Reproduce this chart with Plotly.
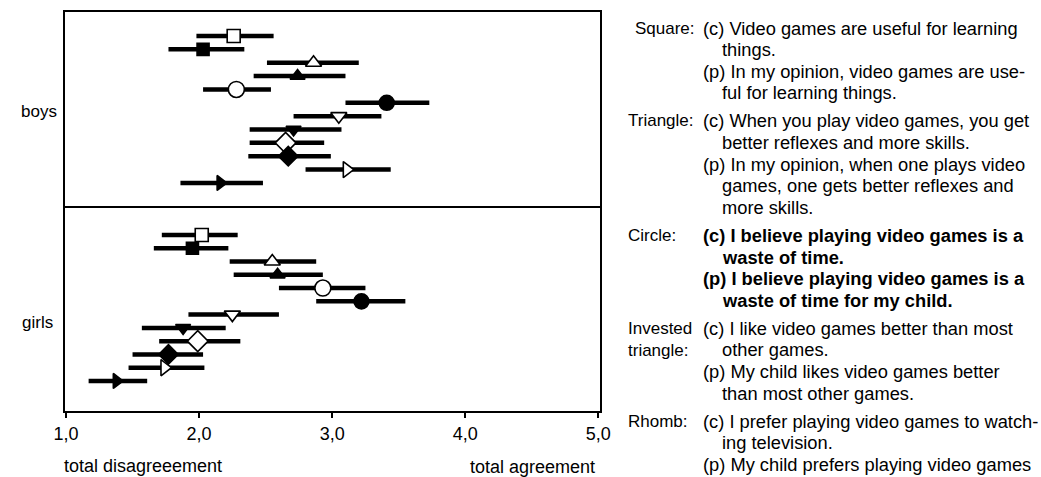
import plotly.graph_objects as go

# Item order within each panel (open = children, filled = parents)
symbols = ["square", "square", "triangle-up", "triangle-up", "circle", "circle",
           "triangle-down", "triangle-down", "diamond", "diamond",
           "triangle-right", "triangle-right"]
filled = [False, True] * 6

# Boys: mean score with lower / upper interval ends
boys_mean = [2.26, 2.03, 2.86, 2.74, 2.28, 3.41, 3.05, 2.71, 2.65, 2.67, 3.11, 2.16]
boys_low = [1.98, 1.77, 2.51, 2.41, 2.03, 3.10, 2.71, 2.38, 2.38, 2.37, 2.80, 1.86]
boys_high = [2.56, 2.34, 3.20, 3.10, 2.54, 3.73, 3.37, 3.07, 2.94, 2.99, 3.44, 2.48]

# Girls
girls_mean = [2.02, 1.95, 2.55, 2.59, 2.93, 3.22, 2.25, 1.88, 1.99, 1.77, 1.74, 1.38]
girls_low = [1.72, 1.66, 2.23, 2.26, 2.60, 2.88, 1.92, 1.57, 1.70, 1.50, 1.47, 1.17]
girls_high = [2.29, 2.22, 2.88, 2.93, 3.25, 3.55, 2.60, 2.20, 2.31, 2.03, 2.04, 1.61]

tick_vals = [1, 2, 3, 4, 5]
tick_text = ["1,0", "2,0", "3,0", "4,0", "5,0"]
group_labels = ["boys", "girls"]
scale_ends = ["total disagreeement", "total agreement"]

key_entries = [
    ("Square:", False, [
        ["(c) Video games are useful for learning", "things."],
        ["(p) In my opinion, video games are use-", "ful for learning things."]]),
    ("Triangle:", False, [
        ["(c) When you play video games, you get", "better reflexes and more skills."],
        ["(p) In my opinion, when one plays video", "games, one gets better reflexes and", "more skills."]]),
    ("Circle:", True, [
        ["(c) I believe playing video games is a", "waste of time."],
        ["(p) I believe playing video games is a", "waste of time for my child."]]),
    ("Invested<br>triangle:", False, [
        ["(c) I like video games better than most", "other games."],
        ["(p) My child likes video games better", "than most other games."]]),
    ("Rhomb:", False, [
        ["(c) I prefer playing video games to watch-", "ing television."],
        ["(p) My child prefers playing video games", "to watching television."]]),
]

FONT = "Liberation Sans, Arial, Helvetica, sans-serif"
W, H = 1041, 477
PL, PR, PT, PB = 64, 601, 11, 412
DIV = 207
KEY_SIZE = 18.3
LABEL_SIZE = 17


def px(x):
    return (x - PL) / (PR - PL)


def py(y):
    return (PB - y) / (PB - PT)


size_map = {"square": 13, "circle": 16, "triangle-up": 14, "triangle-down": 14,
            "diamond": 16, "triangle-right": 14}

fig = go.Figure()


def add_panel(means, lows, highs, xa, ya):
    for i, (m, lo, hi) in enumerate(zip(means, lows, highs)):
        sym = symbols[i]
        fig.add_trace(go.Scatter(
            x=[m], y=[i], mode="markers", xaxis=xa, yaxis=ya, showlegend=False,
            marker=dict(symbol=sym, size=size_map[sym] - (1 if filled[i] else 0),
                        color="black" if filled[i] else "white",
                        line=dict(color="black", width=1.6)),
            error_x=dict(type="data", symmetric=False, array=[hi - m],
                         arrayminus=[m - lo], thickness=4.5, width=0,
                         color="black"),
        ))


add_panel(boys_mean, boys_low, boys_high, "x2", "y2")
add_panel(girls_mean, girls_low, girls_high, "x", "y")

split = py(DIV)
xr = [0.985, 5.02]
fig.update_layout(
    width=W, height=H, autosize=False,
    margin=dict(l=PL, r=W - PR, t=PT, b=H - PB, pad=0),
    paper_bgcolor="white", plot_bgcolor="white",
    font=dict(family=FONT, color="black", size=18),
    xaxis=dict(domain=[0, 1], anchor="y", range=xr, tickvals=tick_vals,
               ticktext=tick_text, ticks="outside", ticklen=5, tickwidth=1.5,
               tickcolor="black", showgrid=False, zeroline=False, showline=False,
               tickfont=dict(size=18, family=FONT, color="black")),
    xaxis2=dict(domain=[0, 1], anchor="y2", range=xr, matches="x",
                showticklabels=False, ticks="", showgrid=False, zeroline=False,
                showline=False),
    yaxis=dict(domain=[0, split], range=[13.34, -2.11], visible=False),
    yaxis2=dict(domain=[split, 1], range=[12.8, -1.87], visible=False),
)

# Frame and panel divider
fig.add_shape(type="rect", xref="paper", yref="paper", x0=0, y0=0, x1=1, y1=1,
              line=dict(color="black", width=2))
fig.add_shape(type="line", xref="paper", yref="paper", x0=0, x1=1, y0=split, y1=split,
              line=dict(color="black", width=2))

ann = []


def text(x, y, s, anchor="left", size=18):
    ann.append(dict(x=px(x), y=py(y), xref="paper", yref="paper", text=s,
                    showarrow=False, xanchor=anchor, yanchor="middle", align="left",
                    font=dict(family=FONT, size=size, color="black")))


text(19, 112, group_labels[0], size=17)
text(20, 322, group_labels[1], size=17)
text(62, 466, scale_ends[0])
text(597, 467, scale_ends[1], anchor="right")

# Symbol key on the right
LINE = 21.6
GAP = 6.5
y = 28
for label, bold, parts in key_entries:
    lx = 633 if label == "Square:" else 626
    text(lx, y + (LINE / 2 if "<br>" in label else 0), label, size=LABEL_SIZE)
    for part in parts:
        for j, line in enumerate(part):
            s = f"<b>{line}</b>" if bold else line
            text(701 if j == 0 else 720, y, s, size=KEY_SIZE)
            y += LINE
    y += GAP

fig.update_layout(annotations=ann)
fig.write_html("out.html")
